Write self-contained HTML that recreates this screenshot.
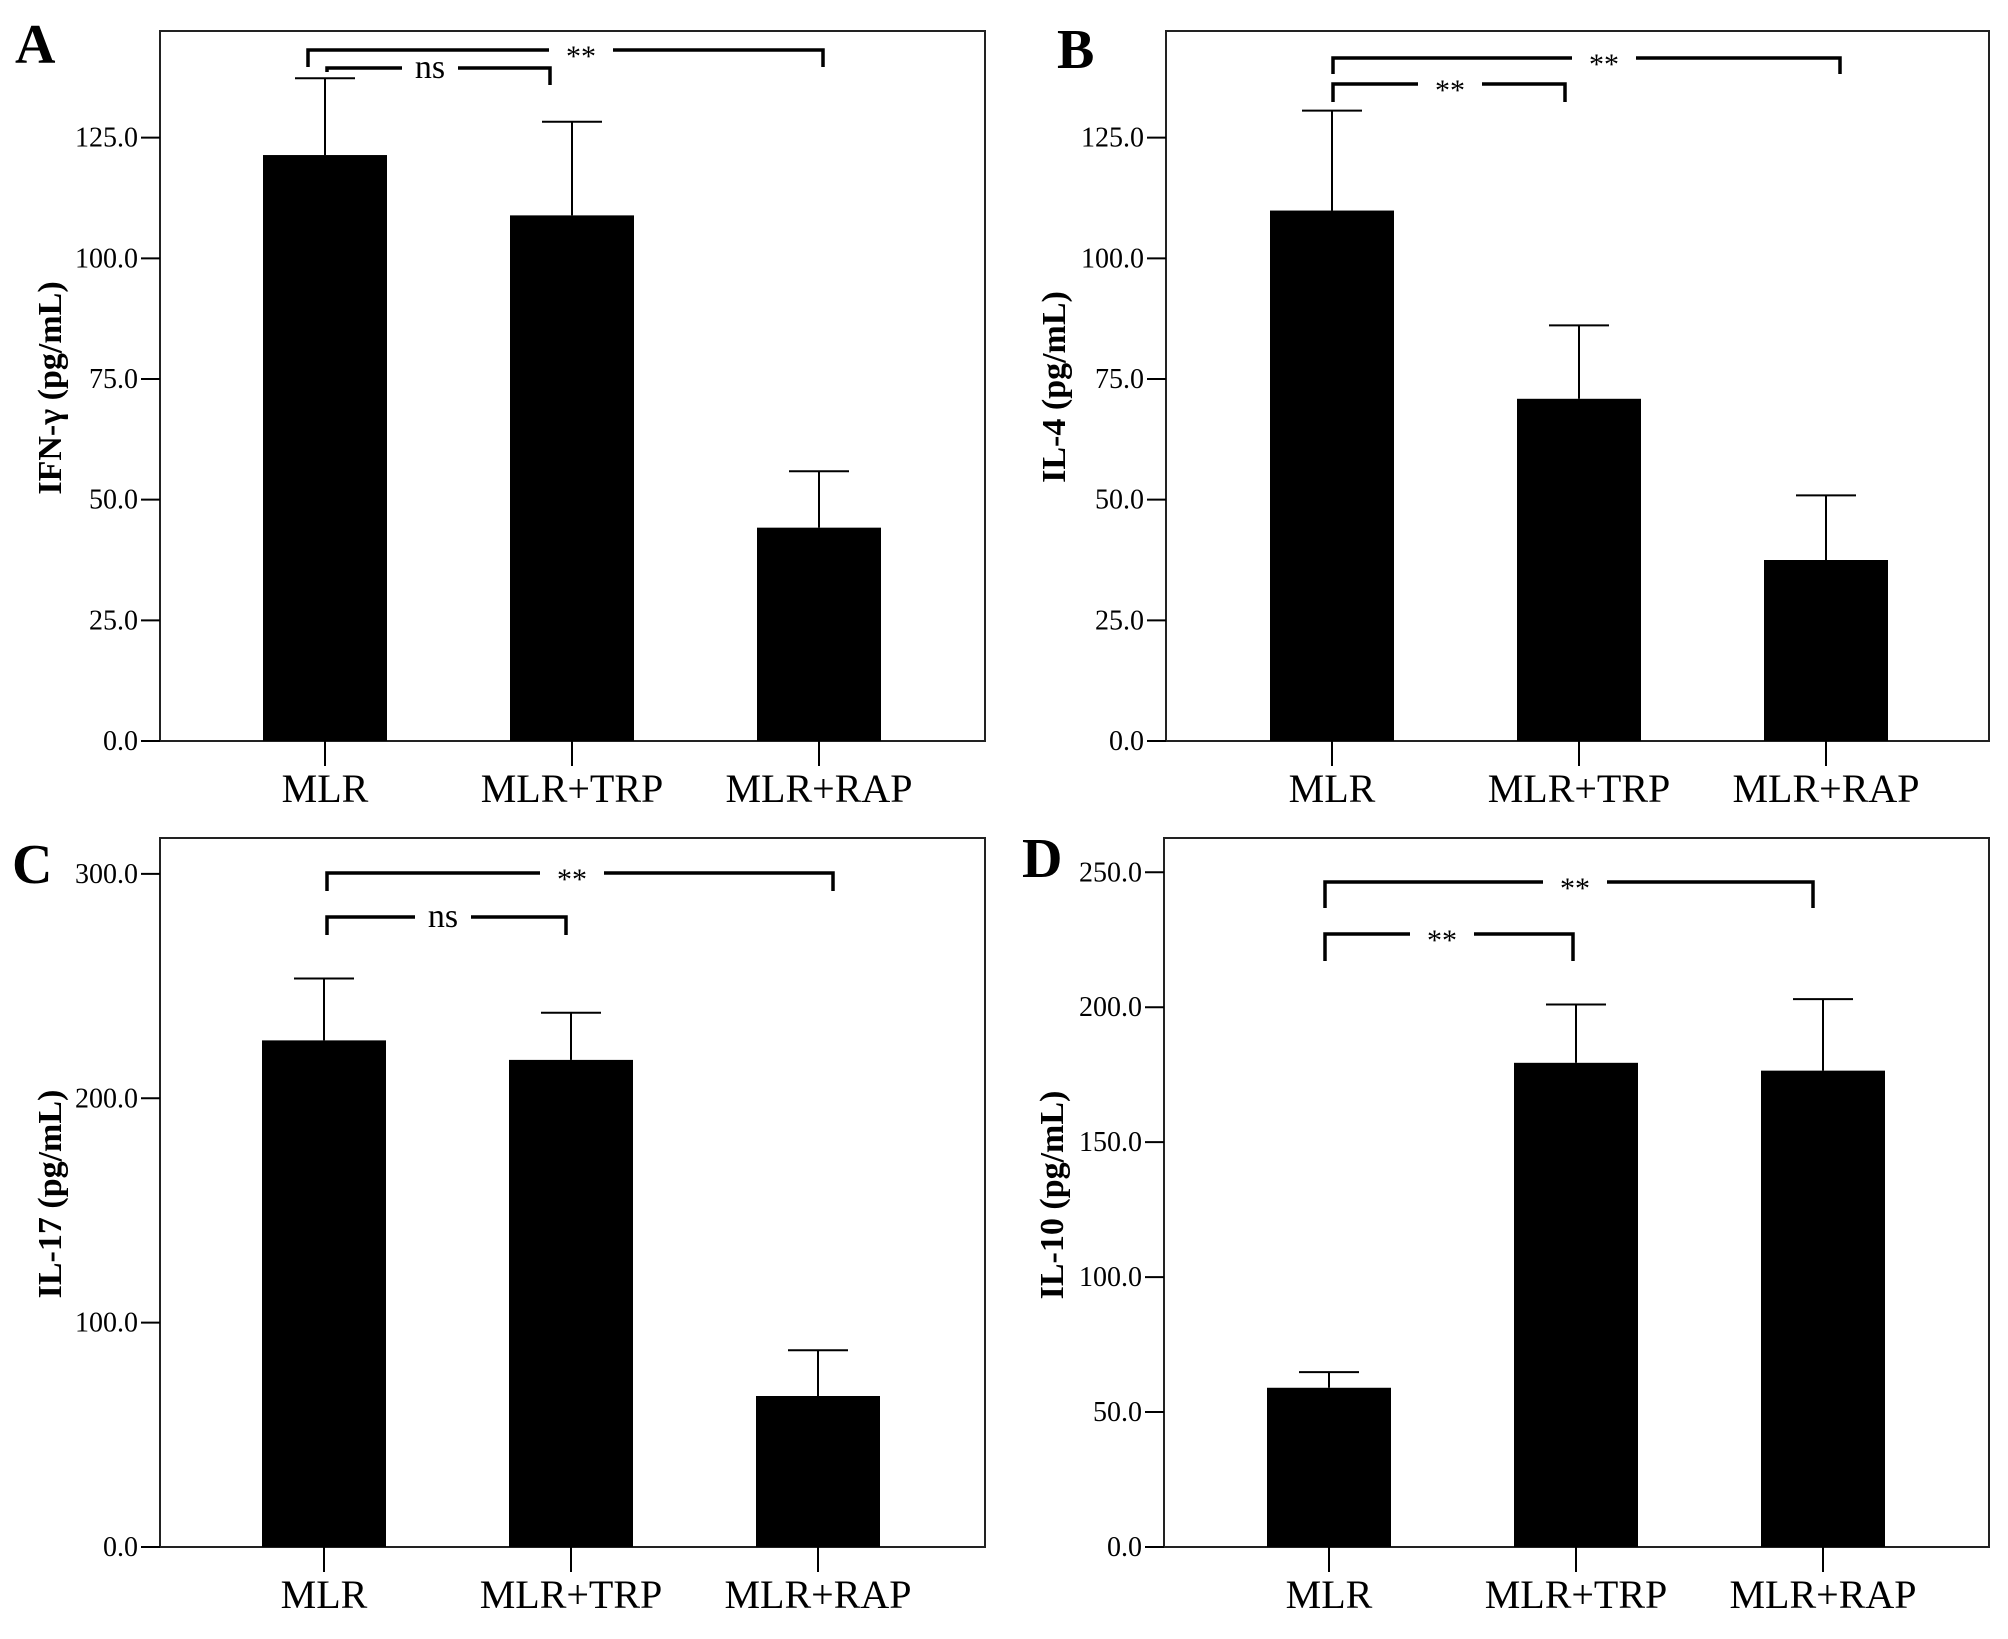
<!DOCTYPE html>
<html><head><meta charset="utf-8">
<style>
html,body{margin:0;padding:0;background:#fff;}
svg{display:block;font-family:"Liberation Serif","Times New Roman",serif;}
</style></head>
<body>
<svg id="fig" width="2008" height="1639" viewBox="0 0 2008 1639" xmlns="http://www.w3.org/2000/svg"></svg>
<script>
const categories = ["MLR", "MLR+TRP", "MLR+RAP"];
const valuesA = [121.4, 108.9, 44.2];
const errorsA = [137.3, 128.3, 55.9];
const valuesB = [109.9, 70.9, 37.5];
const errorsB = [130.6, 86.1, 50.9];
const valuesC = [225.8, 217.1, 67.3];
const errorsC = [253.4, 238.1, 87.7];
const valuesD = [59.0, 179.4, 176.5];
const errorsD = [64.8, 201.0, 203.0];
const ticksAB = [0, 25, 50, 75, 100, 125];
const ticksC = [0, 100, 200, 300];
const ticksD = [0, 50, 100, 150, 200, 250];
const sigA = ["ns", "**"];
const sigB = ["**", "**"];
const sigC = ["ns", "**"];
const sigD = ["**", "**"];

const NS = "http://www.w3.org/2000/svg";
const svg = document.getElementById("fig");
function mk(tag, attrs, parent) {
  const e = document.createElementNS(NS, tag);
  for (const k in attrs) e.setAttribute(k, attrs[k]);
  (parent || svg).appendChild(e);
  return e;
}

const panels = [
  {id:"a", letter:"A", lx:15, ly:63, x0:160, x1:985, y0:31, y1:741, max:147.1, vals:valuesA, errs:errorsA, ticks:ticksAB, title:"IFN-\u03b3 (pg/mL)", tx:50, ty:388, c0:325, sig:sigA,
   br:[{xa:327, xb:550, y:68, da:72, db:85, tx:430}, {xa:308, xb:823, y:50, da:67, db:67, tx:581}]},
  {id:"b", letter:"B", lx:1057, ly:68, x0:1166, x1:1989, y0:31, y1:741, max:147.1, vals:valuesB, errs:errorsB, ticks:ticksAB, title:"IL-4 (pg/mL)", tx:1054, ty:387, c0:1332, sig:sigB,
   br:[{xa:1333, xb:1565, y:84, da:102, db:102, tx:1450}, {xa:1333, xb:1840, y:58, da:74, db:74, tx:1604}]},
  {id:"c", letter:"C", lx:12, ly:883, x0:160, x1:985, y0:838, y1:1547, max:316, vals:valuesC, errs:errorsC, ticks:ticksC, title:"IL-17 (pg/mL)", tx:50, ty:1194, c0:324, sig:sigC,
   br:[{xa:327, xb:566, y:917, da:935, db:935, tx:443}, {xa:327, xb:833, y:873, da:891, db:891, tx:572}]},
  {id:"d", letter:"D", lx:1022, ly:877, x0:1164, x1:1989, y0:838, y1:1547, max:262.7, vals:valuesD, errs:errorsD, ticks:ticksD, title:"IL-10 (pg/mL)", tx:1052, ty:1195, c0:1329, sig:sigD,
   br:[{xa:1325, xb:1573, y:934, da:961, db:961, tx:1442}, {xa:1325, xb:1813, y:882, da:908, db:908, tx:1575}]}
];

panels.forEach(p => {
  const g = mk("g", {});
  
  
  const yS = v => p.y1 - v / p.max * (p.y1 - p.y0);
  const xS = i => p.c0 + i * 247;

  const lt = mk("text", {x:p.lx, y:p.ly, "font-size":56, "font-weight":"bold"}, g);
  lt.textContent = p.letter;
  
  

  const box = mk("rect", {x:p.x0, y:p.y0, width:p.x1-p.x0, height:p.y1-p.y0, fill:"none", stroke:"#222", "stroke-width":2}, g);
  
  

  p.ticks.forEach(t => {
    const y = yS(t);
    const tl = mk("line", {x1:p.x0-19, x2:p.x0, y1:y, y2:y, stroke:"#000", "stroke-width":2}, g);
    
    
    const tt = mk("text", {x:p.x0-22, y:y+9, "font-size":28, "text-anchor":"end"}, g);
    tt.textContent = t.toFixed(1);
    
    
  });

  const yt = mk("text", {x:0, y:0, "font-size":34, "font-weight":"bold", "text-anchor":"middle", transform:`translate(${p.tx+11},${p.ty}) rotate(-90)`}, g);
  yt.textContent = p.title;
  
  

  categories.forEach((c, i) => {
    const cx = xS(i);
    const ey = yS(p.errs[i]);
    const el = mk("line", {x1:cx, x2:cx, y1:ey, y2:yS(p.vals[i]), stroke:"#000", "stroke-width":2}, g);
    
    
    const cap = mk("line", {x1:cx-30, x2:cx+30, y1:ey, y2:ey, stroke:"#000", "stroke-width":2}, g);
    
    
    const bar = mk("rect", {x:cx-62, y:yS(p.vals[i]), width:124, height:p.y1-yS(p.vals[i]), fill:"#000"}, g);
    
    
    const xt = mk("line", {x1:cx, x2:cx, y1:p.y1, y2:p.y1+25, stroke:"#000", "stroke-width":2}, g);
    
    
    const xl = mk("text", {x:cx, y:p.y1+61, "font-size":40, "text-anchor":"middle"}, g);
    xl.textContent = c;
    
    
  });

  p.sig.forEach((s, k) => {
    const b = p.br[k];
    const hw = s === "ns" ? 28 : 32;
    const d = `M${b.xa},${b.da} L${b.xa},${b.y} L${b.tx-hw},${b.y} M${b.tx+hw},${b.y} L${b.xb},${b.y} L${b.xb},${b.db}`;
    const br = mk("path", {d:d, fill:"none", stroke:"#000", "stroke-width":3.5}, g);
    
    
    const st = mk("text", {x:b.tx, y:s === "ns" ? b.y+10 : b.y+16, "font-size":s === "ns" ? 34 : 30, "text-anchor":"middle"}, g);
    st.textContent = s;
    
    
  });
});
</script>
</body></html>
